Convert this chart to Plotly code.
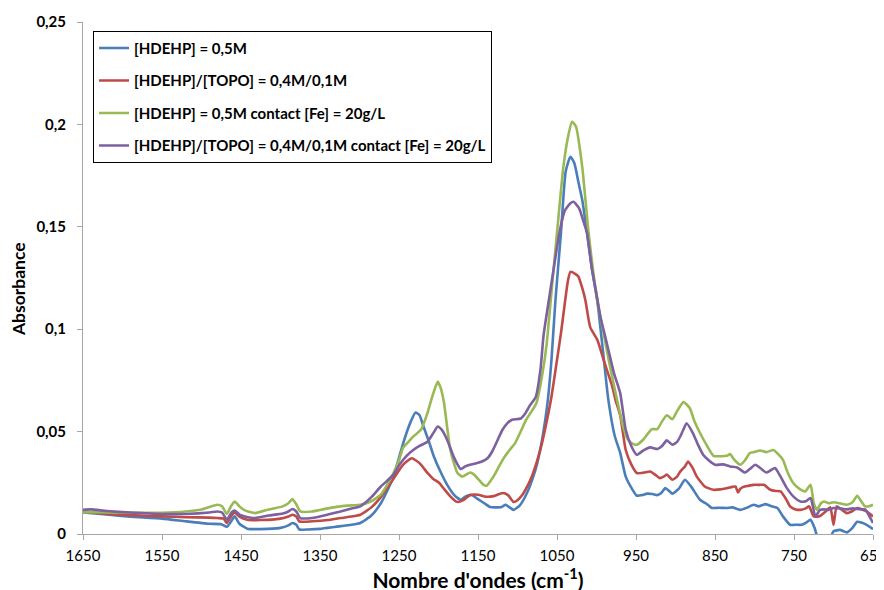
import plotly.graph_objects as go

# ---------------- data ----------------
names = [
    "[HDEHP] = 0,5M",
    "[HDEHP]/[TOPO] = 0,4M/0,1M",
    "[HDEHP] = 0,5M contact [Fe] = 20g/L",
    "[HDEHP]/[TOPO] = 0,4M/0,1M contact [Fe] = 20g/L",
]
colors = ["#4A7EBB", "#BE4B48", "#98B954", "#7D60A0"]

blue_x = [1650, 1620, 1590, 1550, 1520, 1490, 1475, 1468, 1462, 1458, 1452, 1442, 1425, 1400, 1390, 1385, 1380, 1376,
          1365, 1350, 1330, 1310, 1299, 1285, 1273, 1265, 1257, 1248, 1242, 1235, 1229, 1224, 1219, 1212, 1206, 1197,
          1189, 1180, 1172, 1165, 1158, 1150, 1142, 1135, 1128, 1120, 1115, 1110, 1105, 1097, 1088, 1080, 1075, 1068,
          1062, 1057, 1052, 1045, 1039, 1033, 1028, 1023, 1018, 1012, 1006, 999, 992, 985, 977, 970, 963, 955, 949,
          942, 936, 929, 923, 918, 913, 908, 904, 896, 888, 880, 869, 860, 854, 845, 835, 828, 818, 810, 801, 795, 786,
          778, 771, 764, 755, 748, 740, 733, 729, 724, 718, 710, 704, 700, 692, 683, 676, 670, 664, 658, 650]
blue_y = [0.0105, 0.0095, 0.0085, 0.0075, 0.0062, 0.005, 0.0048, 0.0035, 0.0065, 0.0086, 0.005, 0.0026, 0.0024, 0.003,
          0.0042, 0.0054, 0.0045, 0.0022, 0.0022, 0.0025, 0.0035, 0.0045, 0.0054, 0.009, 0.015, 0.021, 0.028, 0.040,
          0.0476, 0.055, 0.0593, 0.058, 0.0525, 0.045, 0.038, 0.030, 0.024, 0.019, 0.0167, 0.0185, 0.019, 0.017, 0.015,
          0.0132, 0.013, 0.0132, 0.0143, 0.013, 0.0118, 0.014, 0.020, 0.028, 0.0346, 0.048, 0.064, 0.085, 0.114, 0.147,
          0.177, 0.1842, 0.181, 0.172, 0.163, 0.147, 0.130, 0.114, 0.090, 0.0655, 0.048, 0.0396, 0.028, 0.022, 0.0187,
          0.019, 0.0197, 0.0195, 0.019, 0.020, 0.0224, 0.021, 0.0197, 0.022, 0.0265, 0.023, 0.0167, 0.0145, 0.0127,
          0.0128, 0.0127, 0.013, 0.0118, 0.0128, 0.0143, 0.0135, 0.0146, 0.0135, 0.0127, 0.0086, 0.0045, 0.0045, 0.0045,
          0.006, 0.007, 0.003, -0.004, -0.005, -0.002, 0.0013, 0.002, 0.0008, 0.003, 0.006, 0.0055, 0.0045, 0.0024]

red_x = [1650, 1620, 1590, 1550, 1520, 1490, 1480, 1472, 1468, 1462, 1458, 1452, 1442, 1425, 1400, 1390, 1385, 1380,
         1376, 1360, 1340, 1324, 1310, 1299, 1285, 1273, 1265, 1257, 1245, 1234, 1224, 1214, 1207, 1199, 1193, 1187,
         1180, 1176, 1168, 1160, 1150, 1140, 1130, 1119, 1112, 1105, 1100, 1094, 1088, 1082, 1075, 1069, 1063, 1057,
         1050, 1045, 1040, 1036, 1033, 1027, 1023, 1018, 1014, 1008, 999, 991, 980, 976, 970, 963, 956, 949, 940, 932,
         926, 920, 915, 911, 904, 898, 894, 888, 884, 878, 873, 863, 852, 843, 835, 828, 824, 821, 818, 814, 808, 801,
         794, 788, 780, 773, 767, 760, 755, 748, 742, 735, 731, 725, 721, 717, 710, 704, 700, 696, 690, 683, 677, 670,
         664, 658, 650]
red_y = [0.011, 0.0098, 0.0092, 0.0086, 0.0082, 0.008, 0.0078, 0.0075, 0.0054, 0.009, 0.0105, 0.0085, 0.007, 0.0068,
         0.0075, 0.0085, 0.0094, 0.0085, 0.0061, 0.0062, 0.0068, 0.0078, 0.0085, 0.0094, 0.013, 0.018, 0.0225, 0.027,
         0.0338, 0.037, 0.0346, 0.0298, 0.027, 0.0249, 0.022, 0.0192, 0.0165, 0.0156, 0.0167, 0.019, 0.0192, 0.0182,
         0.0185, 0.020, 0.019, 0.0156, 0.0165, 0.019, 0.023, 0.028, 0.036, 0.0444, 0.055, 0.067, 0.085, 0.098, 0.113,
         0.124, 0.128, 0.127, 0.1257, 0.12, 0.114, 0.101, 0.0948, 0.085, 0.072, 0.0655, 0.058, 0.041, 0.034, 0.0298,
         0.030, 0.0305, 0.029, 0.0273, 0.028, 0.029, 0.0265, 0.028, 0.0305, 0.033, 0.0354, 0.032, 0.028, 0.0232,
         0.0216, 0.0218, 0.0224, 0.023, 0.0232, 0.0203, 0.022, 0.023, 0.0235, 0.024, 0.024, 0.024, 0.0216, 0.021,
         0.0208, 0.017, 0.0135, 0.012, 0.0118, 0.0125, 0.0135, 0.0086, 0.0085, 0.0088, 0.011, 0.013, 0.0045, 0.0135,
         0.012, 0.0102, 0.011, 0.0127, 0.012, 0.011, 0.0086]

green_x = [1650, 1620, 1590, 1550, 1520, 1500, 1480, 1474, 1468, 1462, 1458, 1452, 1445, 1432, 1415, 1397, 1390, 1385,
           1380, 1375, 1360, 1340, 1324, 1310, 1299, 1285, 1273, 1265, 1257, 1250, 1245, 1238, 1232, 1222, 1214, 1208,
           1201, 1197, 1193, 1189, 1185, 1180, 1176, 1170, 1165, 1160, 1155, 1149, 1143, 1139, 1134, 1129, 1122, 1116,
           1110, 1103, 1096, 1089, 1082, 1076, 1069, 1063, 1058, 1050, 1042, 1036, 1031, 1026, 1018, 1010, 999, 991,
           983, 974, 966, 960, 954, 949, 941, 935, 930, 923, 917, 911, 904, 898, 890, 882, 876, 869, 860, 852, 843, 835,
           831, 825, 818, 812, 806, 800, 793, 785, 776, 770, 764, 758, 751, 743, 736, 729, 725, 721, 716, 712, 706, 700,
           692, 683, 676, 670, 665, 660, 655, 650]
green_y = [0.0107, 0.0105, 0.0104, 0.0104, 0.011, 0.012, 0.0143, 0.0135, 0.0098, 0.014, 0.0159, 0.0135, 0.0115, 0.0102,
           0.012, 0.0135, 0.015, 0.0171, 0.0145, 0.011, 0.011, 0.0125, 0.0135, 0.014, 0.0143, 0.016, 0.0192, 0.024,
           0.0298, 0.036, 0.042, 0.045, 0.0476, 0.051, 0.059, 0.067, 0.0744, 0.071, 0.064, 0.052, 0.041, 0.034, 0.0298,
           0.028, 0.029, 0.030, 0.029, 0.0265, 0.024, 0.0236, 0.026, 0.029, 0.034, 0.0379, 0.041, 0.0444, 0.050, 0.0558,
           0.060, 0.064, 0.077, 0.093, 0.114, 0.147, 0.179, 0.194, 0.2013, 0.199, 0.179, 0.147, 0.114, 0.098, 0.082,
           0.0655, 0.052, 0.046, 0.044, 0.0436, 0.046, 0.049, 0.0512, 0.0512, 0.055, 0.058, 0.056, 0.060, 0.0644,
           0.0615, 0.055, 0.0493, 0.043, 0.0382, 0.038, 0.0382, 0.039, 0.036, 0.0338, 0.036, 0.0395, 0.040, 0.0408,
           0.040, 0.041, 0.039, 0.0362, 0.030, 0.0249, 0.022, 0.0208, 0.024, 0.0151, 0.0118, 0.015, 0.0159, 0.015,
           0.0155, 0.015, 0.0143, 0.0155, 0.0187, 0.016, 0.0135, 0.0135, 0.0143]

purple_x = [1650, 1640, 1620, 1590, 1550, 1520, 1490, 1480, 1474, 1468, 1462, 1458, 1452, 1445, 1432, 1415, 1397, 1390,
            1385, 1380, 1375, 1360, 1340, 1324, 1310, 1299, 1285, 1273, 1265, 1257, 1249, 1241, 1232, 1224, 1214, 1207,
            1201, 1196, 1191, 1186, 1181, 1176, 1172, 1166, 1160, 1152, 1145, 1138, 1132, 1125, 1119, 1113, 1107, 1096,
            1090, 1084, 1077, 1071, 1067, 1060, 1054, 1047, 1040, 1033, 1029, 1022, 1016, 1012, 1006, 1000, 995, 990,
            985, 978, 970, 963, 956, 949, 940, 932, 923, 917, 911, 904, 898, 894, 890, 886, 878, 872, 865, 858, 850,
            840, 831, 822, 812, 805, 799, 792, 785, 780, 774, 767, 759, 750, 742, 735, 729, 723, 717, 712, 706, 700,
            692, 683, 676, 670, 665, 660, 655, 650]
purple_y = [0.0118, 0.012, 0.0112, 0.0105, 0.0098, 0.0098, 0.0105, 0.011, 0.0105, 0.007, 0.0105, 0.0115, 0.0095,
            0.0086, 0.0078, 0.009, 0.01, 0.011, 0.0122, 0.011, 0.0078, 0.0078, 0.0095, 0.011, 0.0125, 0.0135, 0.018,
            0.0232, 0.026, 0.029, 0.034, 0.0379, 0.041, 0.043, 0.045, 0.049, 0.0525, 0.051, 0.0476, 0.043, 0.0379,
            0.034, 0.0317, 0.033, 0.0338, 0.0345, 0.0354, 0.037, 0.0403, 0.046, 0.0509, 0.054, 0.0558, 0.0564, 0.059,
            0.063, 0.0668, 0.08, 0.097, 0.115, 0.13, 0.147, 0.158, 0.1615, 0.1622, 0.159, 0.152, 0.147, 0.13, 0.117,
            0.106, 0.098, 0.09, 0.0787, 0.0688, 0.0509, 0.043, 0.0387, 0.041, 0.0423, 0.0415, 0.043, 0.0457, 0.0436,
            0.045, 0.0476, 0.051, 0.0541, 0.0493, 0.044, 0.0387, 0.036, 0.0338, 0.034, 0.033, 0.0325, 0.030, 0.032,
            0.0338, 0.032, 0.030, 0.031, 0.0322, 0.028, 0.0224, 0.018, 0.0159, 0.016, 0.0176, 0.0086, 0.0118, 0.012,
            0.0118, 0.0127, 0.0125, 0.012, 0.0125, 0.0122, 0.012, 0.012, 0.009, 0.0054]

x_ticks = [1650, 1550, 1450, 1350, 1250, 1150, 1050, 950, 850, 750, 650]
y_ticks = [0, 0.05, 0.1, 0.15, 0.2, 0.25]
y_tick_text = ["0", "0,05", "0,1", "0,15", "0,2", "0,25"]

series = [(blue_x, blue_y), (red_x, red_y), (green_x, green_y), (purple_x, purple_y)]

# ---------------- figure ----------------
FONT = "Lato"
fig = go.Figure()
for i, ((xs, ys), name, col) in enumerate(zip(series, names, colors)):
    fig.add_trace(go.Scatter(
        x=xs, y=ys, mode="lines", name=name, legendgroup=f"g{i}",
        line=dict(color=col, width=2.6, shape="spline", smoothing=0.5),
    ))

axis_col = "#A6A6A6"
fig.update_layout(
    width=884, height=590,
    margin=dict(l=75, r=19, t=14, b=64),
    paper_bgcolor="white", plot_bgcolor="white",
    font=dict(family=FONT, size=14, color="black"),
    showlegend=True,
    legend=dict(
        x=0.0127, y=0.983, xanchor="left", yanchor="top",
        bordercolor="black", borderwidth=1, bgcolor="white",
        font=dict(family=FONT, size=15, color="black", weight="bold"),
        tracegroupgap=10, itemwidth=30,
    ),
    xaxis=dict(
        range=[1650, 650], tickvals=x_ticks, ticktext=[str(v) for v in x_ticks],
        showgrid=False, zeroline=False, showline=True, linecolor=axis_col, linewidth=1,
        ticks="outside", ticklen=5, tickcolor=axis_col, automargin=False,
        ticklabeloverflow="allow", ticklabelstandoff=3,
        tickfont=dict(family=FONT, size=15),
        title=dict(text="Nombre d'ondes (cm<sup>-1</sup>)", standoff=10,
                   font=dict(family=FONT, size=21, weight="bold")),
    ),
    yaxis=dict(
        range=[0, 0.25], tickvals=y_ticks, ticktext=y_tick_text,
        showgrid=False, zeroline=False, showline=True, linecolor=axis_col, linewidth=1,
        ticks="outside", ticklen=5, tickcolor=axis_col, ticklabelstandoff=8, automargin=False,
        tickfont=dict(family=FONT, size=15, weight="bold"),
    ),
    annotations=[dict(
        text="<b>Absorbance</b>", textangle=-90, showarrow=False,
        xref="paper", yref="paper", x=-0.0819, y=0.479,
        xanchor="center", yanchor="middle",
        font=dict(family=FONT, size=17.5, color="black"),
    )],
)

fig.write_html("out.html")
